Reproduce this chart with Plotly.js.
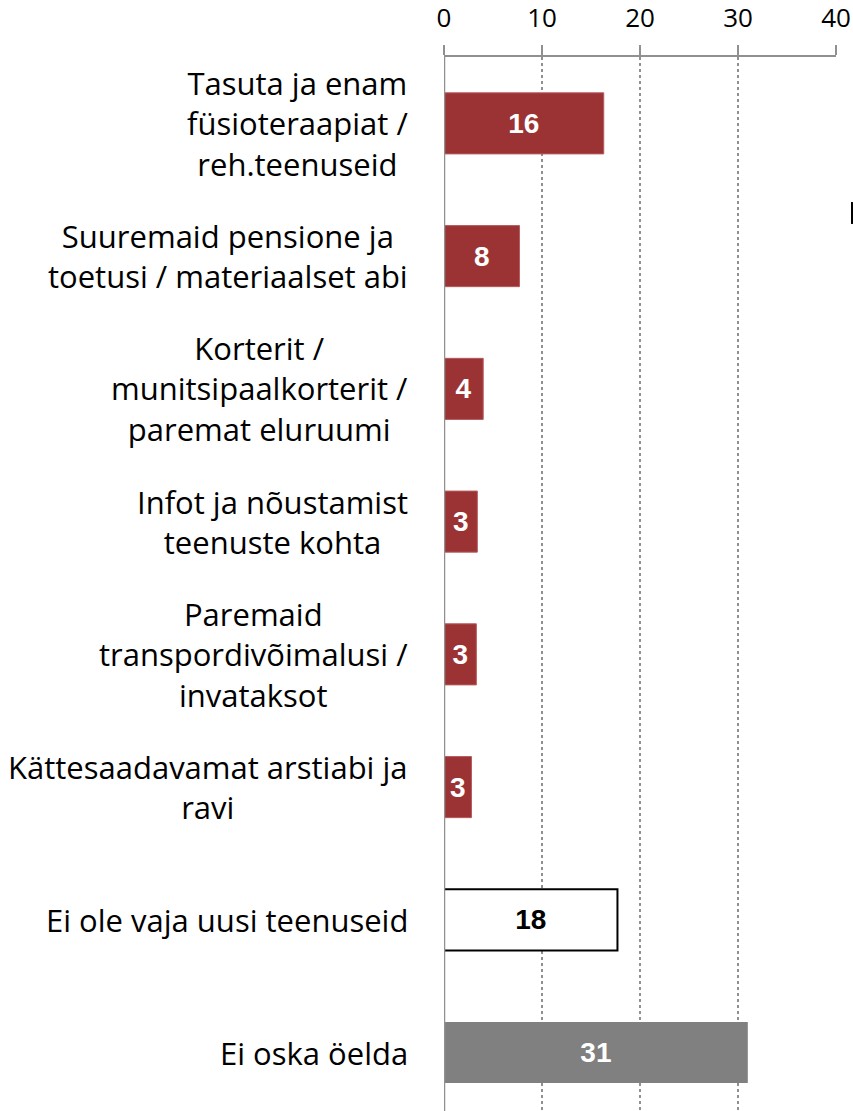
<!DOCTYPE html>
<html>
<head>
<meta charset="utf-8">
<script src="https://cdn.plot.ly/plotly-3.0.1.min.js"></script>
<style>html,body{margin:0;padding:0;background:#fff;}#chart{width:853px;height:1111px;}</style>
</head>
<body>
<div id="chart"></div>
<script>
const categories = [
  "Tasuta ja enam<br>füsioteraapiat /<br>reh.teenuseid",
  "Suuremaid pensione ja<br>toetusi / materiaalset abi",
  "Korterit /<br>munitsipaalkorterit /<br>paremat eluruumi",
  "Infot ja nõustamist<br>teenuste kohta",
  "Paremaid<br>transpordivõimalusi /<br>invataksot",
  "Kättesaadavamat arstiabi ja<br>ravi",
  "Ei ole vaja uusi teenuseid",
  "Ei oska öelda"
];
const values = [16.3, 7.7, 4.0, 3.4, 3.3, 2.8, 17.7, 31.0];
const valueLabels = ["16", "8", "4", "3", "3", "3", "18", "31"];
const barColors = ["#9B3335", "#9B3335", "#9B3335", "#9B3335", "#9B3335", "#9B3335", "#FFFFFF", "#808080"];
const barLineColors = ["#B55A5C", "#B55A5C", "#B55A5C", "#B55A5C", "#B55A5C", "#B55A5C", "#000000", "#808080"];
const barLineWidths = [1, 1, 1, 1, 1, 1, 2, 0];
const labelColors = ["#FFFFFF", "#FFFFFF", "#FFFFFF", "#FFFFFF", "#FFFFFF", "#FFFFFF", "#000000", "#FFFFFF"];
const xTicks = [0, 10, 20, 30, 40];

const idx = categories.map((c, i) => i);

const trace = {
  type: 'bar',
  orientation: 'h',
  y: idx,
  x: values,
  width: 0.46,
  marker: { color: barColors, line: { color: barLineColors, width: barLineWidths } },
  text: valueLabels,
  textposition: 'inside',
  insidetextanchor: 'middle',
  textangle: 0,
  constraintext: 'none',
  textfont: { family: 'Liberation Sans, Arial, sans-serif', size: 28, color: labelColors, weight: 'bold' },
  hoverinfo: 'none',
  cliponaxis: false
};

const annotations = categories.map((c, i) => ({
  xref: 'paper', yref: 'y', x: 0, y: i,
  xanchor: 'right', yanchor: 'middle', xshift: -34,
  align: 'center', showarrow: false, text: c,
  font: { family: 'Open Sans, sans-serif', size: 31, color: '#000' }
}));

const layout = {
  width: 853, height: 1111,
  margin: { l: 444, r: 17, t: 57, b: 0, pad: 0 },
  paper_bgcolor: '#fff', plot_bgcolor: '#fff',
  showlegend: false,
  xaxis: {
    side: 'top', range: [0, 40], tickvals: xTicks, ticktext: xTicks.map(String),
    showline: true, linecolor: '#909090', linewidth: 2,
    ticks: 'outside', ticklen: 10, tickwidth: 2, tickcolor: '#909090',
    ticklabelstandoff: 8,
    showgrid: true, gridcolor: '#909090', griddash: 'dot', gridwidth: 1.5,
    zeroline: false,
    tickfont: { family: 'Open Sans, sans-serif', size: 26, color: '#000' },
    fixedrange: true
  },
  yaxis: {
    type: 'linear', range: [7.44, -0.5],
    showticklabels: false, ticks: '', showgrid: false, zeroline: false,
    showline: false, fixedrange: true
  },
  shapes: [
    { type: 'line', xref: 'x', yref: 'paper', x0: 0, x1: 0, y0: 0, y1: 1, line: { color: '#909090', width: 2.5 } },
    { type: 'line', xref: 'paper', yref: 'paper', x0: 1.0408, x1: 1.0408, y0: 0.8416, y1: 0.8624, line: { color: '#000', width: 2 } }
  ],
  annotations: annotations
};

Plotly.newPlot('chart', [trace], layout, { displayModeBar: false, staticPlot: true });
</script>
</body>
</html>
